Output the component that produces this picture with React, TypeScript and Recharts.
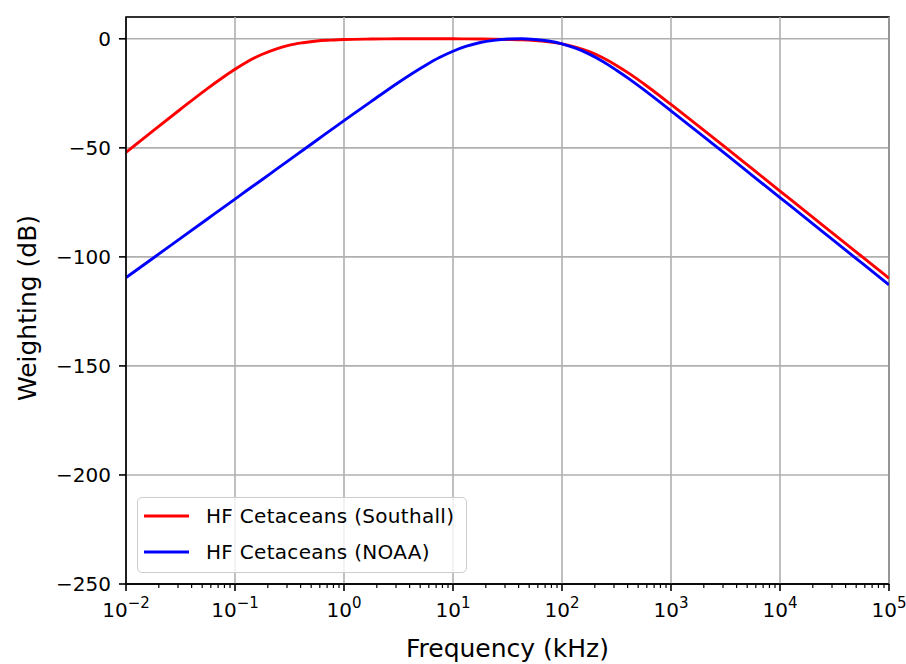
import React from 'react';
import {
  LineChart,
  Line,
  XAxis,
  YAxis,
  CartesianGrid,
  Legend,
  Label,
  ReferenceArea,
  ReferenceLine,
} from 'recharts';

const FONT = '"DejaVu Sans", sans-serif';

// Frequency grid in kHz, 10 Hz to 100 MHz (denser through the bends)
const frequencies = [
  0.01, 0.0178, 0.0316, 0.0562, 0.075, 0.1, 0.133, 0.178, 0.237, 0.316, 0.422, 0.562, 0.75, 1,
  1.78, 3.16, 5.62, 7.5, 10, 13.3, 17.8, 23.7, 31.6, 42.2, 56.2, 75, 100, 133, 178, 237, 316, 422,
  562, 1000, 1780, 3160, 5620, 10000, 17800, 31600, 56200, 100000,
];

// HF cetacean weighting, dB
const southallHF = [
  -52.1, -42.1, -32.3, -22.7, -18.2, -14.0, -10.2, -7.1, -4.7, -2.9, -1.8, -1.0, -0.6, -0.3,
  -0.1, 0.0, 0.0, 0.0, 0.0, -0.05, -0.1, -0.15, -0.3, -0.46, -0.8, -1.4, -2.3, -3.8, -5.9, -8.7,
  -12.2, -16.2, -20.6, -30.1, -39.9, -49.8, -59.8, -69.8, -79.8, -89.8, -99.8, -109.8,
];
const noaaHF = [
  -109.5, -100.5, -91.5, -82.5, -78.0, -73.5, -69.0, -64.5, -60.0, -55.5, -51.0, -46.5, -42.0,
  -37.5, -28.7, -20.0, -12.1, -8.6, -5.7, -3.4, -1.7, -0.7, -0.1, 0.0, -0.3, -1.0, -2.3, -4.3,
  -7.0, -10.4, -14.4, -18.7, -23.3, -33.0, -42.9, -52.8, -62.8, -72.8, -82.8, -92.8, -102.8,
  -112.8,
];

const seriesNames = ['HF Cetaceans (Southall)', 'HF Cetaceans (NOAA)'];
const seriesKeys = ['southall', 'noaa'];

const xTicks = [1e-2, 1e-1, 1, 10, 100, 1e3, 1e4, 1e5];
const xMinorTicks = xTicks.slice(0, -1).flatMap((d) => [2, 3, 4, 5, 6, 7, 8, 9].map((m) => m * d));
const xAllTicks = [...xTicks, ...xMinorTicks].sort((a, b) => a - b);
const yTicks = [-250, -200, -150, -100, -50, 0];

const data = frequencies.map((f, i) => ({ f, southall: southallHF[i], noaa: noaaHF[i] }));

const TICK_SIZE = 7;
const TICK_MARGIN = 2;

const minus = (v: number) => `${v}`.replace('-', '\u2212');

// log axis tick: long mark + 10^n label on decades, short mark in between
function LogTick({ x, y, payload }: any) {
  const axisY = y - TICK_SIZE - TICK_MARGIN;
  const major = xTicks.includes(payload.value);
  if (!major) {
    return <line x1={x} y1={axisY} x2={x} y2={axisY + 4} stroke="#000" strokeWidth={1.2} />;
  }
  const exp = Math.round(Math.log10(payload.value));
  return (
    <g>
      <line x1={x} y1={axisY} x2={x} y2={axisY + TICK_SIZE} stroke="#000" strokeWidth={1.6} />
      <text x={x} y={y + 24} textAnchor="middle" fontSize={20} fontFamily={FONT} fill="#000">
        <tspan>10</tspan>
        <tspan dy={-9} fontSize={15}>
          {minus(exp)}
        </tspan>
      </text>
    </g>
  );
}

function WeightingLegend({ payload }: any) {
  const items = [...(payload || [])].sort(
    (a, b) => seriesKeys.indexOf(a.dataKey) - seriesKeys.indexOf(b.dataKey)
  );
  return (
    <div
      style={{
        width: 330,
        height: 76,
        boxSizing: 'border-box',
        border: '1.5px solid #cccccc',
        borderRadius: 5,
        background: 'rgba(255,255,255,0.8)',
        paddingLeft: 6,
      }}
    >
      {items.map((entry: any) => (
        <div key={entry.value} style={{ display: 'flex', alignItems: 'center', height: 36 }}>
          <svg width={45} height={4} style={{ display: 'block' }}>
            <line x1={0} y1={2} x2={45} y2={2} stroke={entry.color} strokeWidth={2.9} />
          </svg>
          <span
            style={{
              marginLeft: 17,
              fontSize: 20,
              fontFamily: FONT,
              color: '#000',
              lineHeight: '36px',
              letterSpacing: 0.3,
            }}
          >
            {entry.value}
          </span>
        </div>
      ))}
    </div>
  );
}

export default function App() {
  return (
    <div style={{ width: 906, height: 664, fontFamily: FONT }}>
      <style>{'body { margin: 0; overflow: hidden; }'}</style>
      <LineChart width={906} height={664} data={data} margin={{ top: 17, right: 17, left: 0, bottom: 0 }}>
        <CartesianGrid vertical={false} stroke="#b0b0b0" strokeWidth={1.6} />
        {xTicks.map((t) => (
          <ReferenceLine key={t} x={t} stroke="#b0b0b0" strokeWidth={1.6} />
        ))}
        <XAxis
          dataKey="f"
          type="number"
          scale="log"
          domain={[1e-2, 1e5]}
          allowDataOverflow
          ticks={xAllTicks}
          interval={0}
          tick={<LogTick />}
          tickSize={TICK_SIZE}
          tickMargin={TICK_MARGIN}
          tickLine={false}
          axisLine={{ stroke: '#000', strokeWidth: 1.6 }}
          height={80}
        >
          <Label
            content={({ viewBox }: any) => (
              <text
                x={viewBox.x + viewBox.width / 2}
                y={viewBox.y + 73}
                textAnchor="middle"
                fontSize={25}
                fontFamily={FONT}
                fill="#000"
              >
                Frequency (kHz)
              </text>
            )}
          />
        </XAxis>
        <YAxis
          type="number"
          domain={[-250, 10]}
          allowDataOverflow
          ticks={yTicks}
          interval={0}
          tickFormatter={minus}
          tick={{ fontSize: 20, fill: '#000', fontFamily: FONT }}
          tickSize={7}
          tickMargin={8}
          tickLine={{ stroke: '#000', strokeWidth: 1.6 }}
          axisLine={{ stroke: '#000', strokeWidth: 1.6 }}
          width={126}
        >
          <Label
            content={({ viewBox }: any) => {
              const cx = viewBox.x + 27;
              const cy = viewBox.y + 291;
              return (
                <text
                  x={cx}
                  y={cy}
                  transform={`rotate(-90 ${cx} ${cy})`}
                  textAnchor="middle"
                  dominantBaseline="central"
                  fontSize={25}
                  fontFamily={FONT}
                  fill="#000"
                >
                  Weighting (dB)
                </text>
              );
            }}
          />
        </YAxis>
        <Line
          dataKey="southall"
          name={seriesNames[0]}
          type="monotone"
          stroke="#ff0000"
          strokeWidth={2.9}
          dot={false}
          activeDot={false}
          isAnimationActive={false}
        />
        <Line
          dataKey="noaa"
          name={seriesNames[1]}
          type="monotone"
          stroke="#0000ff"
          strokeWidth={2.9}
          dot={false}
          activeDot={false}
          isAnimationActive={false}
        />
        <ReferenceArea
          x1={1e-2}
          x2={1e5}
          y1={-250}
          y2={10}
          fill="none"
          stroke="#000"
          strokeWidth={1.6}
          ifOverflow="visible"
        />
        <Legend
          layout="horizontal"
          align="center"
          verticalAlign="middle"
          content={<WeightingLegend />}
          wrapperStyle={{ left: 137, top: 497, width: 330, height: 76 }}
        />
      </LineChart>
    </div>
  );
}
